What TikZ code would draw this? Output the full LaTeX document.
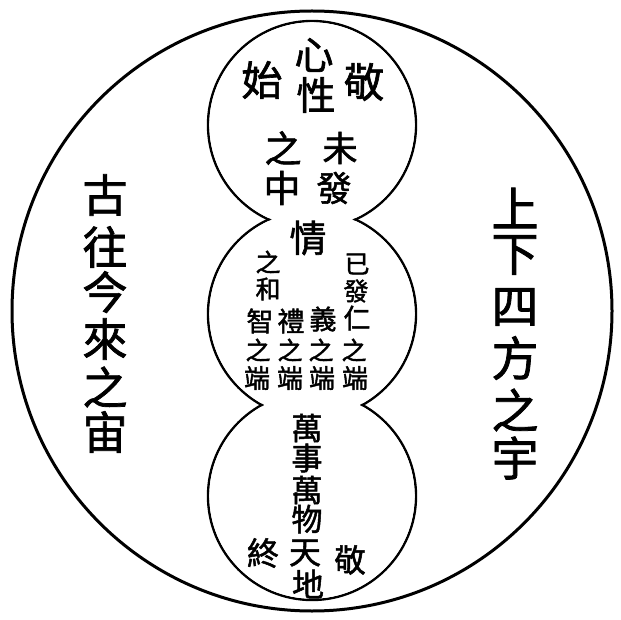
\documentclass[tikz,border=0pt]{standalone}
\usepackage{fontspec}
\newfontfamily\cjk[FakeBold=1.6]{Noto Sans CJK TC}
\begin{document}
\begin{tikzpicture}[x=1pt,y=-1pt,
  ch/.style={inner sep=0pt, font=\cjk\fontsize{#1}{#1}\selectfont},
  outerring/.style={line width=3pt},
  innerring/.style={line width=2.4pt}]
\useasboundingbox (0,0) rectangle (621,620);
\fill[white] (0,0) rectangle (621,620);
% outer circle
\draw[outerring] (312,311) circle[radius=300pt];
% three stacked inner circles (union outline)
\foreach \yy in {125,314,496} \draw[innerring] (312,\yy) circle[radius=104pt];
\foreach \yy in {125,314,496} \fill[white] (312,\yy) circle[radius=102.6pt];
% top circle
\node[ch=39] (xin) at (314,55) {心};
\node[ch=39] (xing) at (316,95) {性};
\node[ch=41] (shi) at (262,80) {始};
\node[ch=41] (jing1) at (364,82) {敬};
\node[ch=37] (zhiA) at (283,148) {之};
\node[ch=37] (zhong) at (282,188) {中};
\node[ch=35] (wei) at (340,148) {未};
\node[ch=35] (faA) at (334,188) {發};
\node[ch=37] (qing) at (308,238) {情};
% middle circle
\node[ch=25] (zhiB) at (268,262) {之};
\node[ch=25] (he) at (268,289) {和};
\node[ch=25] (yi) at (357,264) {已};
\node[ch=25] (faB) at (356,291) {發};
\node[ch=27] (zhi4) at (260,321) {智};
\node[ch=27] (li) at (291,321) {禮};
\node[ch=27] (yi4) at (323,319) {義};
\node[ch=27] (ren) at (357,318) {仁};
\node[ch=25] (z1) at (258,350) {之};
\node[ch=25] (z2) at (290,350) {之};
\node[ch=25] (z3) at (321,350) {之};
\node[ch=25] (z4) at (354,350) {之};
\node[ch=26] (d1) at (257,378) {端};
\node[ch=26] (d2) at (290,378) {端};
\node[ch=26] (d3) at (322,378) {端};
\node[ch=26] (d4) at (355,378) {端};
% bottom circle
\node[ch=31] (wanA) at (307,428) {萬};
\node[ch=31] (shiB) at (307,458) {事};
\node[ch=31] (wanB) at (307,490) {萬};
\node[ch=31] (wu) at (307,519) {物};
\node[ch=32] (tian) at (305,553) {天};
\node[ch=32] (di) at (308,584) {地};
\node[ch=32] (zhongB) at (263,553) {終};
\node[ch=32] (jing2) at (350,560) {敬};
% left column
\node[ch=45] (gu) at (105,195) {古};
\node[ch=45] (wang) at (105,247) {往};
\node[ch=45] (jin) at (105,292) {今};
\node[ch=45] (lai) at (105,339) {來};
\node[ch=45] (zhiL) at (105,387) {之};
\node[ch=45] (zhou) at (105,432) {宙};
% right column
\node[ch=47] (shang) at (515,208) {上};
\node[ch=47] (xia) at (515,255) {下};
\node[ch=47] (si) at (515,307) {四};
\node[ch=47] (fang) at (515,358) {方};
\node[ch=47] (zhiR) at (515,410) {之};
\node[ch=47] (yu) at (515,458) {宇};
\end{tikzpicture}
\end{document}
